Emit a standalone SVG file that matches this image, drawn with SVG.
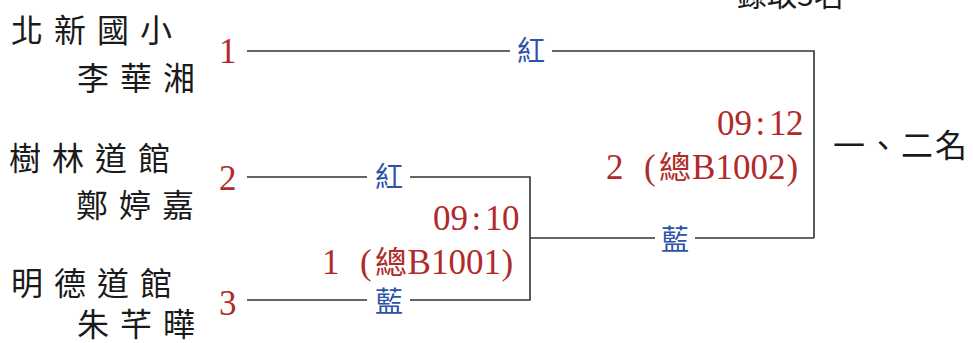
<svg xmlns="http://www.w3.org/2000/svg" width="973" height="343" viewBox="0 0 973 343">
<style>
.bg{fill:#ffffff}
.name{font-family:"Noto Sans CJK TC","Noto Sans CJK SC",sans-serif;font-size:32px;fill:#1a1a1a;letter-spacing:11px}
.seed{font-family:"Liberation Serif",serif;font-size:35px;fill:#b02a2a}
.red{font-family:"Liberation Serif","Noto Sans CJK TC",serif;font-size:35px;fill:#b02a2a}
.cjk{font-family:"Noto Sans CJK TC","Noto Sans CJK SC",sans-serif;font-size:32px}
.corner{font-family:"Noto Sans CJK TC","Noto Sans CJK SC",sans-serif;font-size:28px;fill:#2d52aa;text-anchor:middle}
.rank{font-family:"Noto Sans CJK TC","Noto Sans CJK SC",sans-serif;font-size:32px;fill:#1a1a1a;letter-spacing:2px}
.head{font-family:"Noto Sans CJK TC","Noto Sans CJK SC",sans-serif;font-size:30px;fill:#1a1a1a}
.wire{fill:none;stroke:#333333;stroke-width:1.6}
</style>
<rect class="bg" x="0" y="0" width="973" height="343"/>

<g id="header">
<text class="head" x="737" y="6">錄取3名</text>
</g>

<g id="connectors">
<path class="wire" d="M247,51 H510"/>
<path class="wire" d="M552,51 H814 V238"/>
<path class="wire" d="M247,177 H367"/>
<path class="wire" d="M410,177 H530 V300 H410"/>
<path class="wire" d="M247,300 H367"/>
<path class="wire" d="M530,238 H655"/>
<path class="wire" d="M695,238 H814"/>
<text class="corner" x="531" y="61">紅</text>
<text class="corner" x="389" y="187">紅</text>
<text class="corner" x="389" y="312">藍</text>
<text class="corner" x="675" y="250">藍</text>
</g>

<g id="team1">
<text class="name" x="11" y="42">北新國小</text>
<text class="name" x="77" y="90">李華湘</text>
<text class="seed" x="219" y="63">1</text>
</g>

<g id="team2">
<text class="name" x="9" y="170">樹林道館</text>
<text class="name" x="76" y="217">鄭婷嘉</text>
<text class="seed" x="219" y="190">2</text>
</g>

<g id="team3">
<text class="name" x="11" y="295">明德道館</text>
<text class="name" x="77" y="336">朱芊曄</text>
<text class="seed" x="219" y="315">3</text>
</g>

<g id="match1">
<text class="red" x="433 450.5 471.5 485 502" y="230">09:10</text>
<text class="red" y="274"><tspan x="322">1</tspan><tspan x="360">(</tspan><tspan class="cjk" x="375">總</tspan><tspan x="407.5">B</tspan><tspan x="431 448.5 466 483.5 501.5">1001)</tspan></text>
</g>

<g id="match2">
<text class="red" x="717 734.5 755.5 769 786" y="135">09:12</text>
<text class="red" y="179"><tspan x="606">2</tspan><tspan x="644">(</tspan><tspan class="cjk" x="659">總</tspan><tspan x="692">B</tspan><tspan x="715.5 733 750.5 768 786.5">1002)</tspan></text>
</g>

<g id="final">
<text class="rank" x="833" y="157">一、二名</text>
</g>
</svg>
